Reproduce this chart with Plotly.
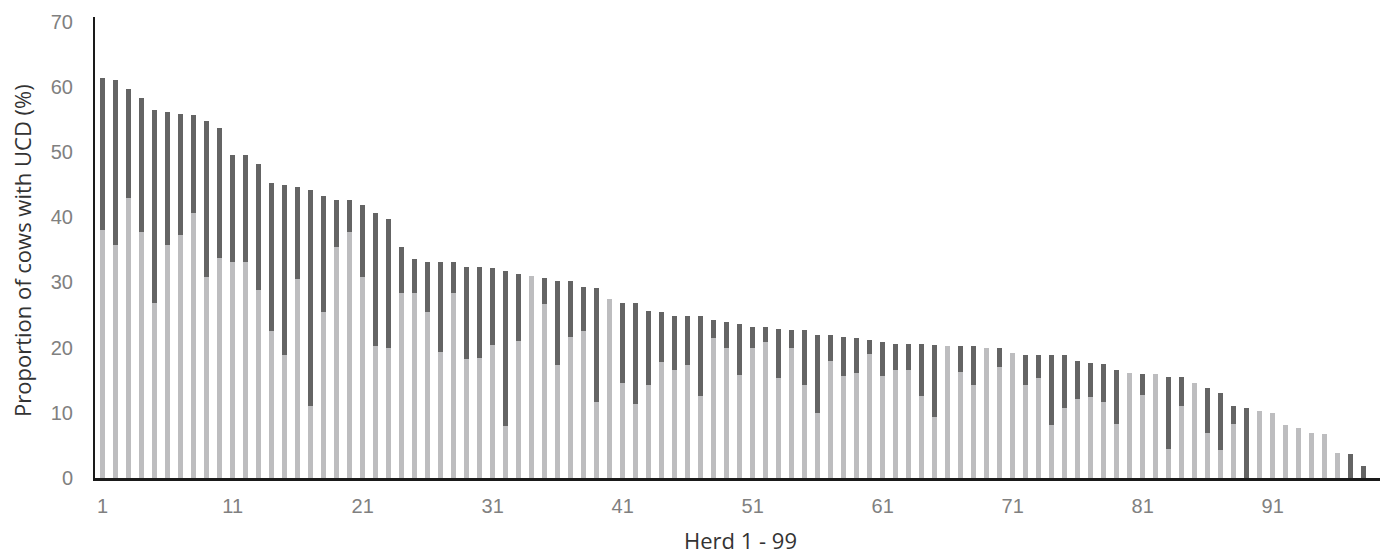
import plotly.graph_objects as go

herds = list(range(1, 100))

total = [61.4, 61.1, 59.6, 58.3, 56.4, 56.1, 55.9, 55.7, 54.8, 53.7,
         49.6, 49.6, 48.1, 45.2, 44.9, 44.6, 44.1, 43.3, 42.6, 42.6,
         41.9, 40.7, 39.7, 35.4, 33.6, 33.1, 33.1, 33.1, 32.4, 32.3,
         32.2, 31.8, 31.3, 31.0, 30.6, 30.2, 30.2, 29.3, 29.2, 27.4,
         26.9, 26.8, 25.6, 25.5, 24.8, 24.8, 24.8, 24.2, 23.9, 23.6,
         23.2, 23.1, 22.9, 22.7, 22.7, 21.9, 21.9, 21.7, 21.5, 21.2,
         20.9, 20.6, 20.6, 20.6, 20.4, 20.3, 20.2, 20.2, 19.9, 19.9,
         19.1, 18.9, 18.9, 18.8, 18.8, 18.0, 17.7, 17.5, 16.6, 16.1,
         16.0, 16.0, 15.5, 15.5, 14.6, 13.8, 13.0, 11.0, 10.7, 10.2,
         10.0, 8.1, 7.6, 6.9, 6.7, 3.9, 3.7, 1.8, 0.0]

light = [38.0, 35.7, 43.0, 37.7, 26.9, 35.7, 37.2, 40.7, 30.8, 33.8,
         33.1, 33.1, 28.9, 22.6, 18.9, 30.5, 11.1, 25.5, 35.4, 37.8,
         30.9, 20.3, 19.9, 28.4, 28.4, 25.5, 19.3, 28.4, 18.2, 18.4,
         20.4, 7.9, 21.0, 31.0, 26.7, 17.3, 21.6, 22.6, 11.6, 27.4,
         14.5, 11.4, 14.2, 17.8, 16.5, 17.4, 12.5, 21.5, 19.9, 15.8,
         19.9, 20.8, 15.3, 19.9, 14.2, 10.0, 17.9, 15.6, 16.1, 19.0,
         15.7, 16.6, 16.6, 12.5, 9.4, 20.3, 16.2, 14.2, 19.9, 17.0,
         19.1, 14.2, 15.4, 8.1, 10.8, 12.1, 12.4, 11.7, 8.3, 16.1,
         12.8, 16.0, 4.4, 11.0, 14.6, 6.9, 4.3, 8.3, 0.0, 10.2,
         10.0, 8.1, 7.6, 6.9, 6.7, 3.9, 0.0, 0.0, 0.0]

dark = [round(t - l, 2) for t, l in zip(total, light)]

x_ticks = list(range(1, 100, 10))
y_ticks = list(range(0, 71, 10))

x_title = "Herd 1 - 99"
y_title = "Proportion of cows with UCD (%)"

fig = go.Figure()
fig.add_trace(go.Bar(x=herds, y=light, marker=dict(color="#bdbdbf", line=dict(width=0)),
                     width=0.4, showlegend=False))
fig.add_trace(go.Bar(x=herds, y=dark, marker=dict(color="#646464", line=dict(width=0)),
                     width=0.4, showlegend=False))

title_font = dict(family="Open Sans", size=22, color="#333333")

fig.update_layout(
    barmode="stack",
    width=1383, height=554,
    margin=dict(l=95, r=3, t=17, b=76, autoexpand=False),
    plot_bgcolor="white", paper_bgcolor="white",
    font=dict(family="Liberation Sans, Arial", size=20, color="#808080"),
    annotations=[
        dict(text=x_title, xref="paper", yref="paper", x=0.502, y=-0.1345,
             xanchor="center", yanchor="middle", showarrow=False, font=title_font),
        dict(text=y_title, xref="paper", yref="paper", x=-0.0568, y=0.4924,
             xanchor="center", yanchor="middle", textangle=-90, showarrow=False,
             font=title_font),
    ],
)
fig.update_xaxes(
    range=[0.41, 99.25], automargin=False,
    tickvals=x_ticks, ticktext=[str(v) for v in x_ticks],
    showgrid=False, zeroline=False,
    showline=True, linecolor="#1a1a1a", linewidth=3,
    ticks="", ticklabelstandoff=8,
    tickfont=dict(family="Liberation Sans, Arial", size=20, color="#808080"),
)
fig.update_yaxes(
    range=[0, 70.7], automargin=False,
    tickvals=y_ticks,
    showgrid=False, zeroline=False,
    showline=True, linecolor="#1a1a1a", linewidth=2,
    ticks="", ticklabelstandoff=16,
    tickfont=dict(family="Liberation Sans, Arial", size=20, color="#808080"),
)

fig.write_html(
    "out.html",
    config={"displayModeBar": False},
    post_script="document.body.style.margin='0';document.body.style.overflow='hidden';",
)
